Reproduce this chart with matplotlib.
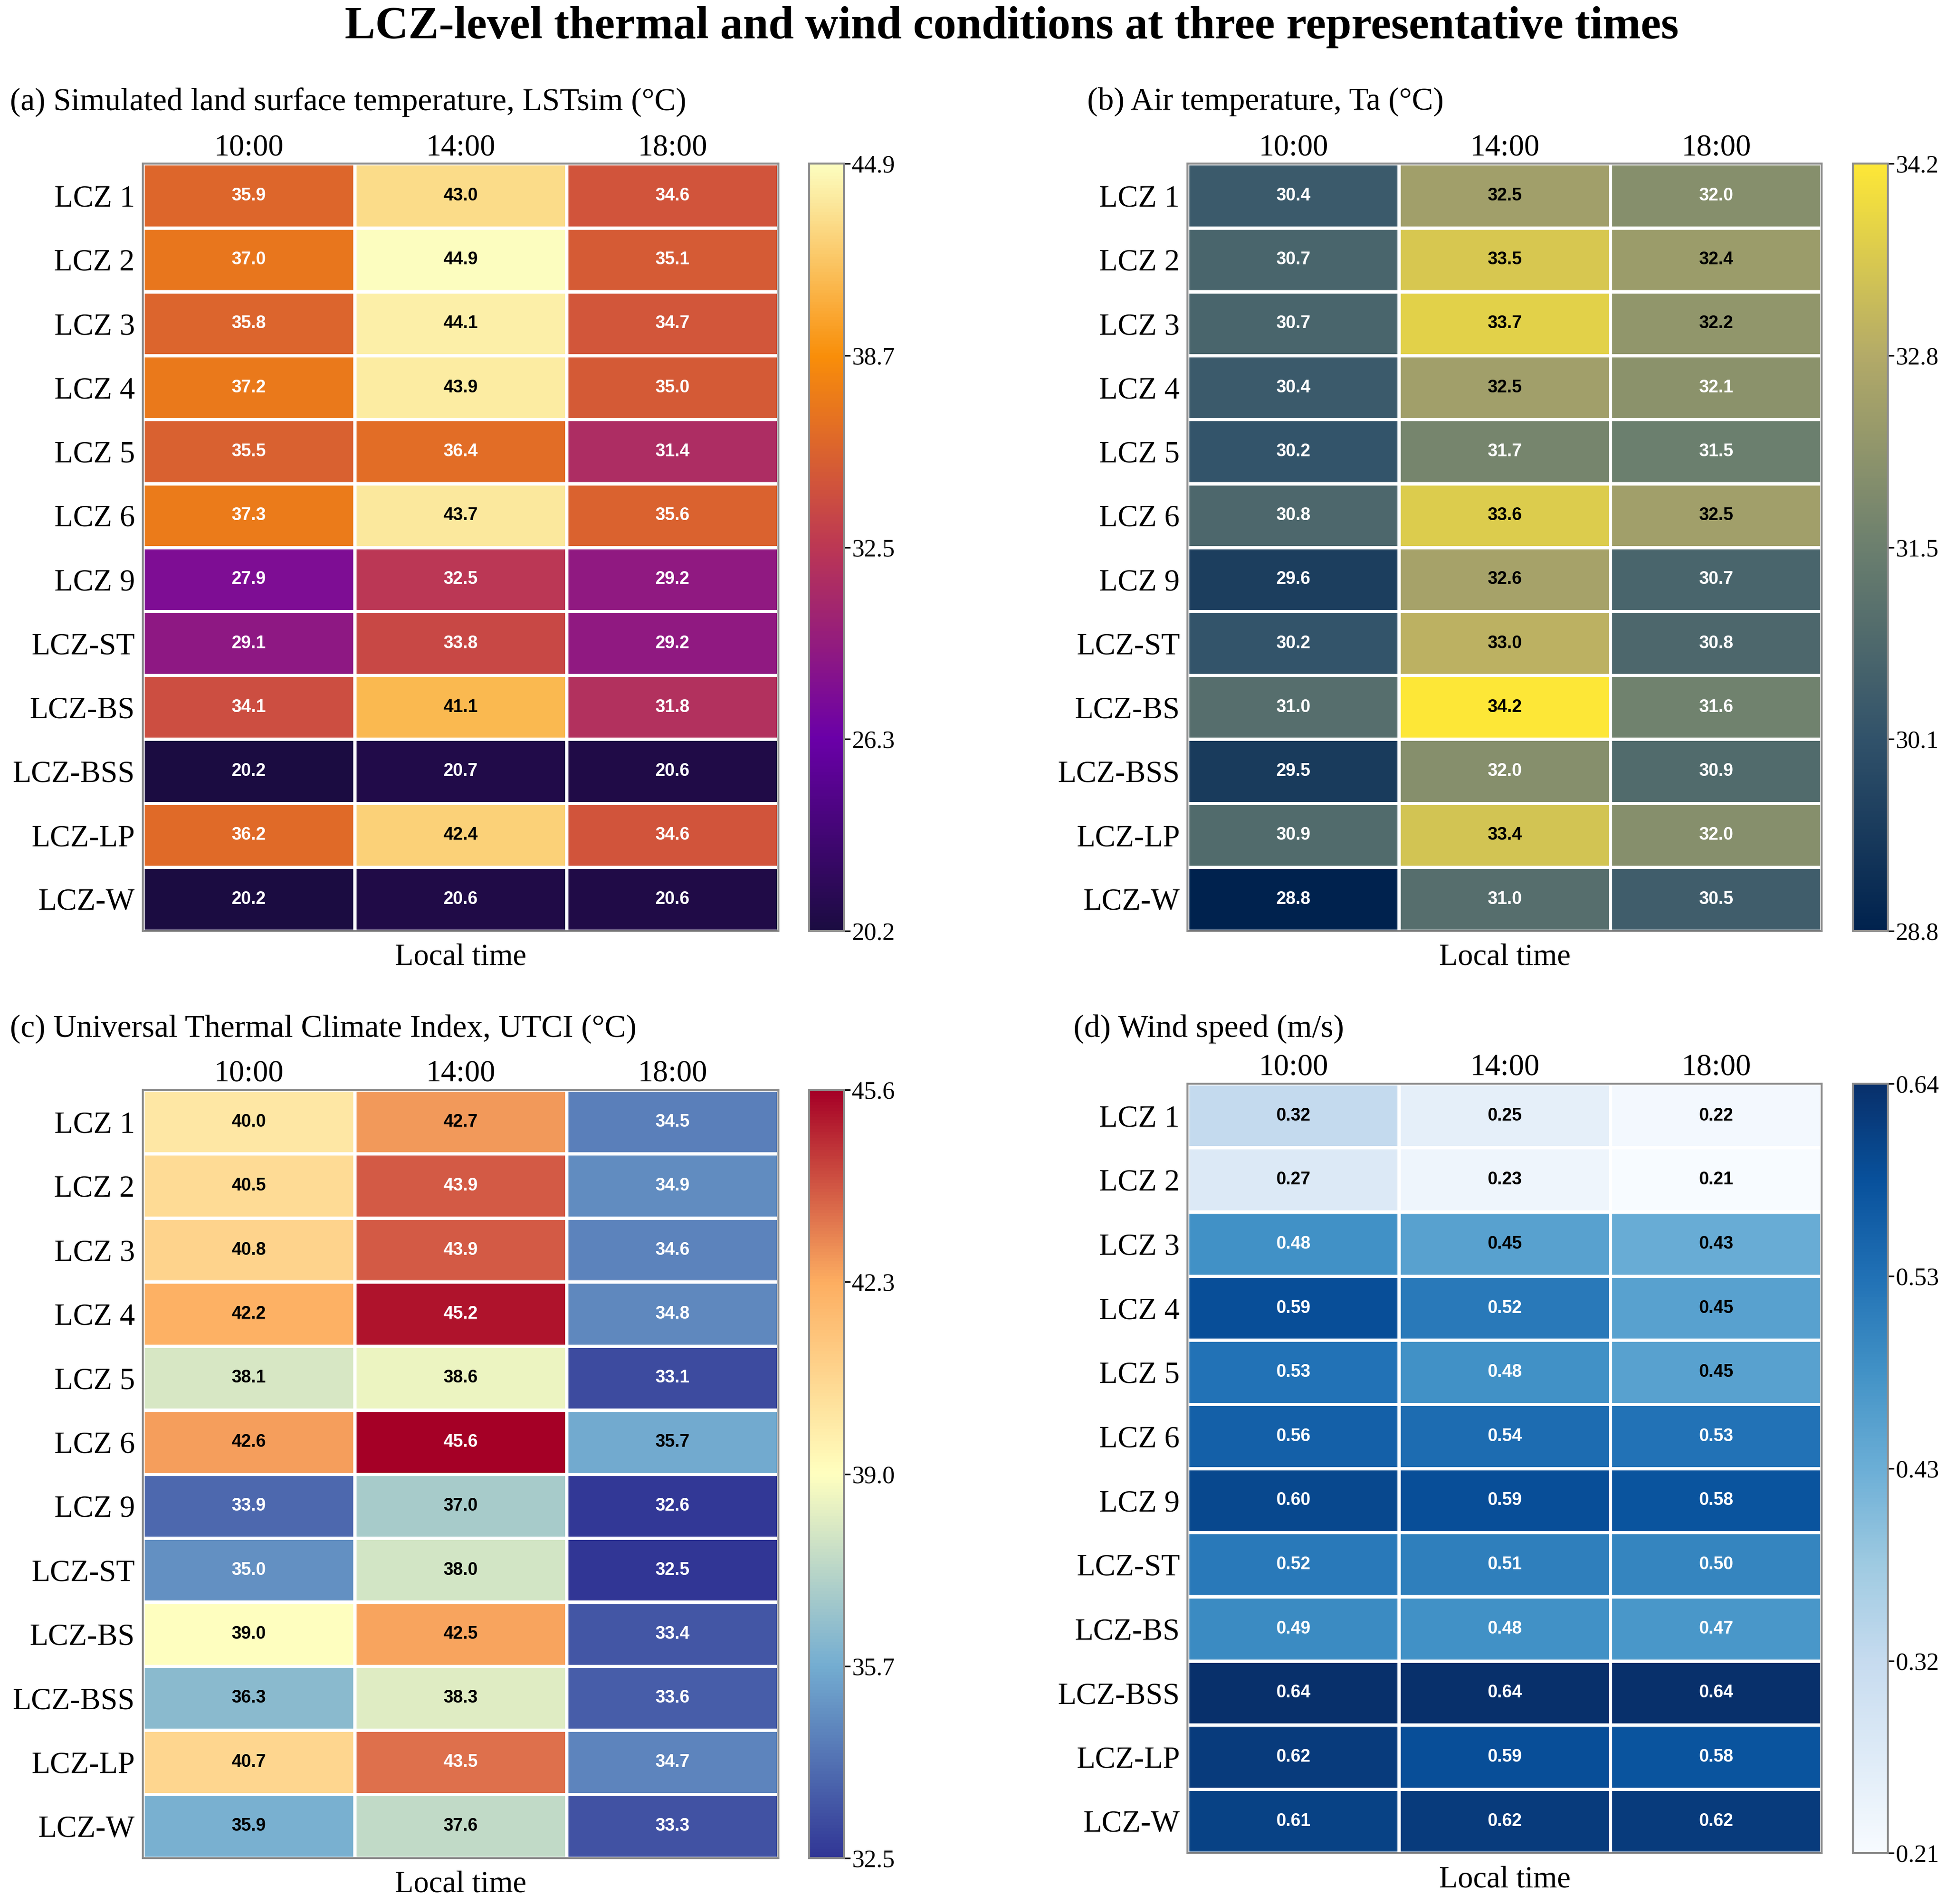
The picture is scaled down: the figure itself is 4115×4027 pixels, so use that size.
import matplotlib
matplotlib.use("Agg")
import matplotlib.pyplot as plt
from matplotlib.colors import LinearSegmentedColormap, Normalize
import numpy as np

plt.rcParams['font.family'] = ['Liberation Serif', 'DejaVu Serif']

# rows and columns
lcz_labels = ["LCZ 1", "LCZ 2", "LCZ 3", "LCZ 4", "LCZ 5", "LCZ 6", "LCZ 9",
              "LCZ-ST", "LCZ-BS", "LCZ-BSS", "LCZ-LP", "LCZ-W"]
times = ["10:00", "14:00", "18:00"]

# (a) simulated LST, columns 10:00 / 14:00 / 18:00
lst_10 = [35.9, 37.0, 35.8, 37.2, 35.5, 37.3, 27.9, 29.1, 34.1, 20.2, 36.2, 20.2]
lst_14 = [43.0, 44.9, 44.1, 43.9, 36.4, 43.7, 32.5, 33.8, 41.1, 20.7, 42.4, 20.6]
lst_18 = [34.6, 35.1, 34.7, 35.0, 31.4, 35.6, 29.2, 29.2, 31.8, 20.6, 34.6, 20.6]
lst_ticks = ["20.2", "26.3", "32.5", "38.7", "44.9"]

# (b) air temperature
ta_10 = [30.4, 30.7, 30.7, 30.4, 30.2, 30.8, 29.6, 30.2, 31.0, 29.5, 30.9, 28.8]
ta_14 = [32.5, 33.5, 33.7, 32.5, 31.7, 33.6, 32.6, 33.0, 34.2, 32.0, 33.4, 31.0]
ta_18 = [32.0, 32.4, 32.2, 32.1, 31.5, 32.5, 30.7, 30.8, 31.6, 30.9, 32.0, 30.5]
ta_ticks = ["28.8", "30.1", "31.5", "32.8", "34.2"]

# (c) UTCI
utci_10 = [40.0, 40.5, 40.8, 42.2, 38.1, 42.6, 33.9, 35.0, 39.0, 36.3, 40.7, 35.9]
utci_14 = [42.7, 43.9, 43.9, 45.2, 38.6, 45.6, 37.0, 38.0, 42.5, 38.3, 43.5, 37.6]
utci_18 = [34.5, 34.9, 34.6, 34.8, 33.1, 35.7, 32.6, 32.5, 33.4, 33.6, 34.7, 33.3]
utci_ticks = ["32.5", "35.7", "39.0", "42.3", "45.6"]

# (d) wind speed
ws_10 = [0.32, 0.27, 0.48, 0.59, 0.53, 0.56, 0.60, 0.52, 0.49, 0.64, 0.62, 0.61]
ws_14 = [0.25, 0.23, 0.45, 0.52, 0.48, 0.54, 0.59, 0.51, 0.48, 0.64, 0.59, 0.62]
ws_18 = [0.22, 0.21, 0.43, 0.45, 0.45, 0.53, 0.58, 0.50, 0.47, 0.64, 0.58, 0.62]
ws_ticks = ["0.21", "0.32", "0.43", "0.53", "0.64"]

# colour maps
cmap_lst = LinearSegmentedColormap.from_list(
    "lst", ["#1b0c41", "#6a00a8", "#bc3754", "#f98e09", "#fcfdbf"])
cmap_ta = LinearSegmentedColormap.from_list(
    "ta", ["#00224e", "#31526a", "#6b7f6e", "#b3aa68", "#fde737"])
cmap_utci = LinearSegmentedColormap.from_list(
    "utci", ["#313695", "#74add1", "#ffffbf", "#fdae61", "#a50026"])
cmap_ws = plt.get_cmap("Blues")


def dark_text(n, kind):
    # black text on the light part of each colour map
    if kind == "a":
        return n > 0.75
    if kind == "b":
        return n > 0.62
    if kind == "c":
        return 0.21 < n < 0.82
    return n < 0.58


def draw_heatmap(fig, pos, cpos, data, cmap, tick_labels, fmt, kind):
    ax = fig.add_axes(pos)
    vmin, vmax = data.min(), data.max()
    norm = Normalize(vmin, vmax)
    mesh = ax.pcolormesh(np.arange(4), np.arange(13), data, cmap=cmap, norm=norm,
                         edgecolors="white", linewidth=1.6)
    ax.set_xlim(0, 3)
    ax.set_ylim(12, 0)
    ax.set_xticks(np.arange(3) + 0.5)
    ax.set_xticklabels(times, fontsize=15.5)
    ax.xaxis.tick_top()
    ax.set_yticks(np.arange(12) + 0.5)
    ax.set_yticklabels(lcz_labels, fontsize=15.5)
    ax.tick_params(axis="y", length=0, pad=4)
    ax.tick_params(axis="x", length=0, pad=1)
    ax.set_xlabel("Local time", fontsize=15.5, labelpad=6.5)
    for s in ax.spines.values():
        s.set_color("#8c8c8c")
        s.set_linewidth(1.0)

    for i in range(data.shape[0]):
        for j in range(data.shape[1]):
            v = data[i, j]
            col = "black" if dark_text(norm(v), kind) else "white"
            ax.text(j + 0.5, i + 0.5, fmt.format(v), ha="center", va="center",
                    fontsize=9, fontweight="bold", family="Liberation Sans", color=col)

    cax = fig.add_axes(cpos)
    cb = fig.colorbar(mesh, cax=cax, ticks=np.linspace(vmin, vmax, 5))
    cb.set_ticklabels(tick_labels)
    cb.ax.tick_params(labelsize=12.5, length=3, width=0.8, pad=1)
    cb.outline.set_edgecolor("#8c8c8c")
    cb.outline.set_linewidth(1.0)
    return ax


fig = plt.figure(figsize=(4115 / 300, 4027 / 300), dpi=300)

lst = np.column_stack([lst_10, lst_14, lst_18])
ta = np.column_stack([ta_10, ta_14, ta_18])
utci = np.column_stack([utci_10, utci_14, utci_18])
ws = np.column_stack([ws_10, ws_14, ws_18])

draw_heatmap(fig, [0.0733, 0.511, 0.3267, 0.403], [0.4158, 0.511, 0.0179, 0.403],
             lst, cmap_lst, lst_ticks, "{:.1f}", "a")
draw_heatmap(fig, [0.6103, 0.511, 0.3259, 0.403], [0.9522, 0.511, 0.0179, 0.403],
             ta, cmap_ta, ta_ticks, "{:.1f}", "b")
draw_heatmap(fig, [0.0733, 0.0241, 0.3267, 0.4035], [0.4158, 0.0241, 0.0179, 0.4035],
             utci, cmap_utci, utci_ticks, "{:.1f}", "c")
draw_heatmap(fig, [0.6103, 0.0267, 0.3259, 0.4042], [0.9522, 0.0267, 0.0179, 0.4042],
             ws, cmap_ws, ws_ticks, "{:.2f}", "d")

fig.text(0.52, 0.9857, "LCZ-level thermal and wind conditions at three representative times",
         ha="center", va="center", fontsize=23.2, fontweight="bold")
fig.text(0.005, 0.9465, "(a) Simulated land surface temperature, LSTsim (\u00b0C)",
         ha="left", va="center", fontsize=16.2)
fig.text(0.5587, 0.9465, "(b) Air temperature, Ta (\u00b0C)",
         ha="left", va="center", fontsize=16.2)
fig.text(0.005, 0.4596, "(c) Universal Thermal Climate Index, UTCI (\u00b0C)",
         ha="left", va="center", fontsize=16.2)
fig.text(0.5517, 0.4596, "(d) Wind speed (m/s)",
         ha="left", va="center", fontsize=16.2)

fig.savefig("out.png", dpi=300, facecolor="white")
